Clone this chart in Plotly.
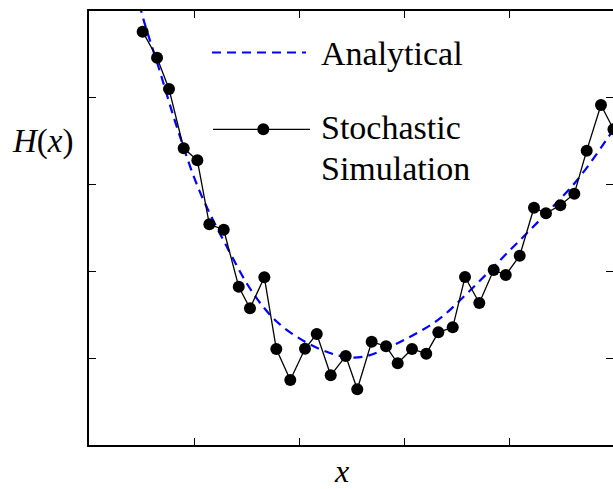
import plotly.graph_objects as go

# Stochastic simulation samples
x_sim = [0.511, 0.648, 0.762, 0.902, 1.032, 1.146, 1.283, 1.426, 1.533, 1.670,
         1.784, 1.917, 2.057, 2.169, 2.302, 2.445, 2.555, 2.692, 2.829, 2.940,
         3.076, 3.212, 3.327, 3.464, 3.581, 3.717, 3.854, 3.969, 4.102, 4.238,
         4.352, 4.489, 4.622, 4.740, 4.876, 4.995]
h_sim = [4.762, 4.462, 4.101, 3.418, 3.280, 2.543, 2.480, 1.824, 1.575, 1.932,
         1.106, 0.749, 1.109, 1.279, 0.803, 1.025, 0.642, 1.190, 1.137, 0.941,
         1.106, 1.052, 1.298, 1.356, 1.935, 1.636, 2.016, 1.959, 2.181, 2.734,
         2.669, 2.762, 2.895, 3.391, 3.917, 3.637]

# Analytical curve samples
x_ana = [0.46, 0.495, 0.676, 0.838, 1.048, 1.314, 1.562, 1.790, 2.057, 2.295,
         2.467, 2.629, 2.790, 3.048, 3.333, 3.629, 3.981, 4.324, 4.648, 4.981, 5.05]
h_ana = [5.25, 5.01, 4.30, 3.66, 2.94, 2.28, 1.75, 1.42, 1.19, 1.06,
         1.01, 1.02, 1.09, 1.24, 1.45, 1.78, 2.21, 2.63, 3.05, 3.61, 3.74]

tick_vals = [1, 2, 3, 4]

W, H = 613, 489
L, R, T, B = 89, 0, 11, 44
pw, ph = W - L - R, H - T - B
X_MAX = pw / 105.0

def px(xp):
    return (xp - L) / pw

def py(yp):
    return (H - B - yp) / ph

FONT = "Liberation Serif"

fig = go.Figure()
fig.add_trace(go.Scatter(
    x=x_ana, y=h_ana, mode="lines", line_shape="spline",
    line=dict(color="#0000FF", width=2.2, dash="9px,6px"),
    showlegend=False, hoverinfo="skip"))
fig.add_trace(go.Scatter(
    x=x_sim, y=h_sim, mode="lines+markers",
    line=dict(color="black", width=1.3),
    marker=dict(color="black", size=12, line=dict(width=0)),
    showlegend=False))
# invisible trace to activate the right-hand tick axis
fig.add_trace(go.Scatter(x=[], y=[], yaxis="y2", showlegend=False))

shapes = [
    dict(type="line", xref="paper", yref="paper",
         x0=px(212), x1=px(306), y0=py(52.5), y1=py(52.5),
         line=dict(color="#0000FF", width=2.2, dash="9px,6px")),
    dict(type="line", xref="paper", yref="paper",
         x0=px(213), x1=px(310), y0=py(129.3), y1=py(129.3),
         line=dict(color="black", width=1.3)),
    dict(type="circle", xref="paper", yref="paper",
         xsizemode="pixel", ysizemode="pixel",
         xanchor=px(263.3), yanchor=py(129.3),
         x0=-6, x1=6, y0=-6, y1=6,
         fillcolor="black", line=dict(width=0)),
]

annotations = [
    dict(text="Analytical", xref="paper", yref="paper", x=px(319), y=py(53.5),
         xanchor="left", yanchor="middle", showarrow=False,
         font=dict(family=FONT, size=34, color="black")),
    dict(text="Stochastic", xref="paper", yref="paper", x=px(319), y=py(127.5),
         xanchor="left", yanchor="middle", showarrow=False,
         font=dict(family=FONT, size=34, color="black")),
    dict(text="Simulation", xref="paper", yref="paper", x=px(319), y=py(168.5),
         xanchor="left", yanchor="middle", showarrow=False,
         font=dict(family=FONT, size=34, color="black")),
    dict(text="<i>H</i>(<i>x</i>)", xref="paper", yref="paper", x=px(42.5), y=py(141.5),
         xanchor="center", yanchor="middle", showarrow=False,
         font=dict(family=FONT, size=33, color="black")),
    dict(text="<i>x</i>", xref="paper", yref="paper", x=px(341.5), y=py(471),
         xanchor="center", yanchor="middle", showarrow=False,
         font=dict(family=FONT, size=32, color="black")),
]

tick_style = dict(showgrid=False, zeroline=False, ticks="inside", ticklen=7,
                  tickwidth=1, tickcolor="black", showticklabels=False)

fig.update_layout(
    width=W, height=H, margin=dict(l=L, r=R, t=T, b=B, pad=0),
    paper_bgcolor="white", plot_bgcolor="white",
    xaxis=dict(range=[0, X_MAX], tickvals=tick_vals, showline=True,
               linecolor="black", linewidth=1.5, mirror="ticks", **tick_style),
    yaxis=dict(range=[0, 5], tickvals=tick_vals, showline=True,
               linecolor="black", linewidth=1.5, mirror=False, **tick_style),
    yaxis2=dict(range=[0, 5], tickvals=tick_vals, overlaying="y", side="right",
                anchor="x", showline=False, **tick_style),
    shapes=shapes, annotations=annotations, showlegend=False,
)

fig.write_html("out.html")
